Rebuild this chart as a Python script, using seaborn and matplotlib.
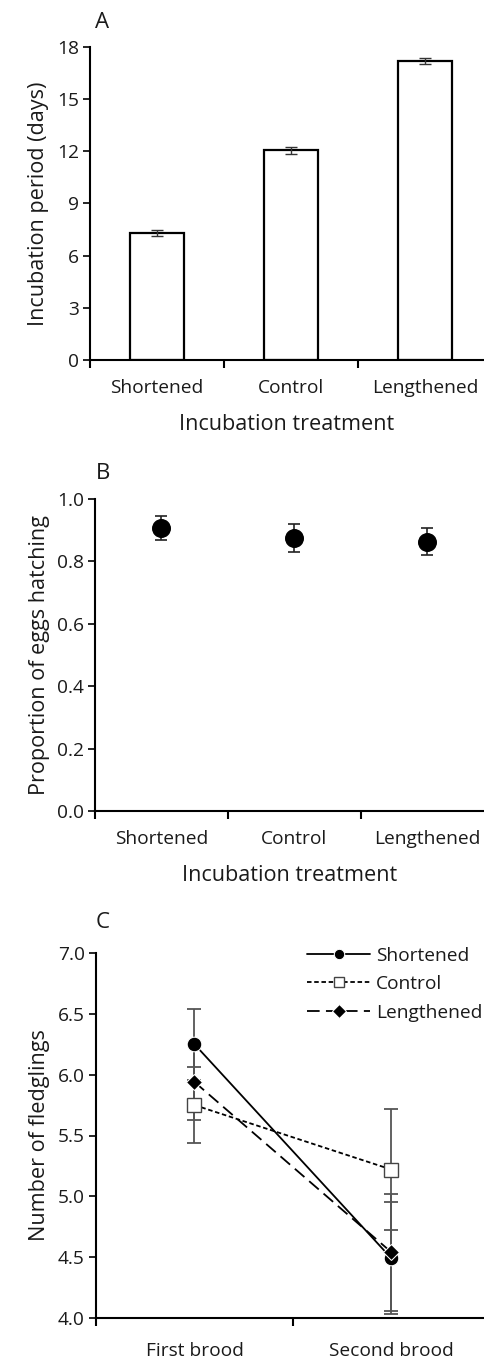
import numpy as np
import pandas as pd
import matplotlib
matplotlib.use("Agg")
import matplotlib.pyplot as plt
import seaborn as sns

# Panel A: incubation period
treatments = ["Shortened", "Control", "Lengthened"]
incubation_mean = [7.32, 12.05, 17.20]
incubation_se = [0.18, 0.18, 0.18]

# Panel B: proportion of eggs hatching
hatch_mean = [0.906, 0.876, 0.863]
hatch_se = [0.038, 0.045, 0.043]

# Panel C: number of fledglings per brood
broods = ["First brood", "Second brood"]
fledge_short = [6.25, 4.49]
fledge_short_se = [0.29, 0.46]
fledge_control = [5.75, 5.22]
fledge_control_se = [0.31, 0.50]
fledge_long = [5.94, 4.54]
fledge_long_se = [0.31, 0.48]

sns.set_style("white")
plt.rcParams["font.family"] = ["Open Sans", "DejaVu Sans"]
plt.rcParams["font.size"] = 13.8

TICK = 13.8
LABEL = 15.6
TXT = "#1a1a1a"

W, H = 484, 1361
fig = plt.figure(figsize=(W / 100, H / 100), dpi=100)


def px_axes(left, top, right, bottom):
    return fig.add_axes([left / W, 1 - bottom / H, (right - left) / W, (bottom - top) / H])


def style_axes(ax, ncat, xmax):
    for s in ["top", "right"]:
        ax.spines[s].set_visible(False)
    for s in ["left", "bottom"]:
        ax.spines[s].set_color("black")
        ax.spines[s].set_linewidth(1.5)
    ax.set_xlim(-0.5, xmax)
    ax.set_xticks(np.arange(ncat))
    ax.set_xticks([b - 0.5 for b in range(ncat)], minor=True)
    ax.tick_params(axis="x", which="major", length=0, pad=14, labelsize=TICK, colors=TXT)
    ax.tick_params(axis="x", which="minor", length=6, width=1.5, color="black", direction="out", bottom=True)
    ax.tick_params(axis="y", length=5, width=1.2, color="black", direction="out", left=True,
                   labelsize=TICK, pad=3, colors=TXT)


# ---- Panel A ----
axA = px_axes(90, 47, 484, 360)
dfA = pd.DataFrame({"treatment": treatments, "days": incubation_mean})
sns.barplot(data=dfA, x="treatment", y="days", ax=axA, color="white", edgecolor="black",
            linewidth=1.6, width=0.4, errorbar=None)
axA.errorbar(np.arange(3), incubation_mean, yerr=incubation_se, fmt="none", ecolor="#333333",
             elinewidth=1, capsize=4.5, capthick=1)
axA.set_ylim(0, 18)
axA.set_yticks([0, 3, 6, 9, 12, 15, 18])
style_axes(axA, 3, 2.44)
axA.set_xticklabels(treatments)
axA.set_xlabel("Incubation treatment", fontsize=LABEL, labelpad=12, color=TXT)
axA.set_ylabel("Incubation period (days)", fontsize=LABEL, labelpad=6, color=TXT)
fig.text(95 / W, 1 - 22 / H, "A", fontsize=16, va="center", ha="left", color=TXT)

# ---- Panel B ----
axB = px_axes(95, 499, 484, 811)
dfB = pd.DataFrame({"treatment": treatments, "prop": hatch_mean})
axB.errorbar(np.arange(3), hatch_mean, yerr=hatch_se, fmt="none", ecolor="#222222",
             elinewidth=1.2, capsize=4.5, capthick=1.2)
sns.scatterplot(data=dfB, x="treatment", y="prop", ax=axB, color="black", s=160,
                edgecolor="black", zorder=3)
axB.set_ylim(0, 1.0)
axB.set_yticks(np.arange(0, 1.01, 0.2))
axB.set_yticklabels([f"{v:.1f}" for v in np.arange(0, 1.01, 0.2)])
style_axes(axB, 3, 2.43)
axB.set_xticklabels(treatments)
axB.set_xlabel("Incubation treatment", fontsize=LABEL, labelpad=12, color=TXT)
axB.set_ylabel("Proportion of eggs hatching", fontsize=LABEL, labelpad=5, color=TXT)
fig.text(96 / W, 1 - 473 / H, "B", fontsize=16, va="center", ha="left", color=TXT)

# ---- Panel C ----
axC = px_axes(96, 953, 484, 1318)
dfC = pd.DataFrame({
    "brood": broods * 3,
    "n": fledge_short + fledge_control + fledge_long,
    "treatment": ["Shortened"] * 2 + ["Control"] * 2 + ["Lengthened"] * 2,
})
dfC["x"] = dfC["brood"].map({b: i for i, b in enumerate(broods)})
for vals, errs in [(fledge_short, fledge_short_se), (fledge_control, fledge_control_se),
                   (fledge_long, fledge_long_se)]:
    axC.errorbar(np.arange(2), vals, yerr=errs, fmt="none", ecolor="#555555",
                 elinewidth=1.3, capsize=5, capthick=1.3, zorder=1)
sns.lineplot(data=dfC, x="x", y="n", hue="treatment", style="treatment",
             hue_order=treatments, style_order=treatments,
             palette={"Shortened": "black", "Control": "black", "Lengthened": "black"},
             dashes={"Shortened": "", "Control": (2.5, 1.5), "Lengthened": (7, 3.5)},
             markers={"Shortened": "o", "Control": "s", "Lengthened": "D"},
             markersize=9, linewidth=1.3, ax=axC, zorder=3)
for line in axC.get_lines():
    if line.get_marker() == "s":
        line.set_markerfacecolor("white")
        line.set_markeredgecolor("#444444")
        line.set_markersize(10)
        line.set_markeredgewidth(1.0)
    elif line.get_marker() == "D":
        line.set_markersize(8.5)
    elif line.get_marker() == "o":
        line.set_markersize(10.5)
axC.set_ylim(4.0, 7.0)
axC.set_yticks(np.arange(4.0, 7.01, 0.5))
axC.set_yticklabels([f"{v:.1f}" for v in np.arange(4.0, 7.01, 0.5)])
style_axes(axC, 2, 1.47)
axC.set_xticklabels(broods)
axC.tick_params(axis="x", which="major", pad=17)
axC.set_xlabel("")
axC.set_ylabel("Number of fledglings", fontsize=LABEL, labelpad=6, color=TXT)
fig.text(96 / W, 1 - 923 / H, "C", fontsize=16, va="center", ha="left", color=TXT)

handles, labels = axC.get_legend_handles_labels()
leg = axC.legend(handles, labels, loc="upper right", bbox_to_anchor=(1.04, 1.065), frameon=False,
                 fontsize=TICK, handlelength=3.3, handletextpad=0.3, labelspacing=0.55)
for t in leg.get_texts():
    t.set_color(TXT)
for h in leg.legend_handles:
    if h.get_marker() == "s":
        h.set_markerfacecolor("white")
        h.set_markeredgecolor("#444444")
        h.set_markersize(7)
    else:
        h.set_markersize(7.5)

fig.savefig("out.png", dpi=100)
